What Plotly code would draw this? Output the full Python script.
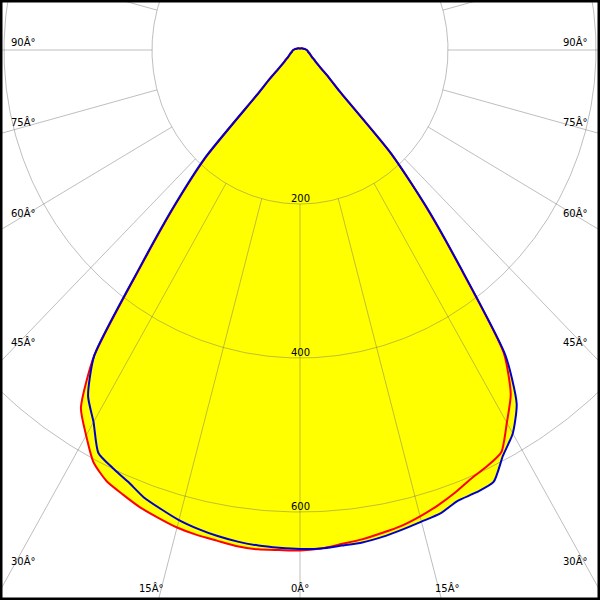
import numpy as np
import plotly.graph_objects as go

# Angles (degrees from nadir, negative = left half) and luminous intensities (cd)
angles = [-180, -135, -110, -100, -90, -85, -80, -75, -70, -65, -60, -57.5, -55, -52.5,
          -50, -47.5, -45, -42.5, -40, -37.5, -35, -32.5, -30, -27.5, -25, -22.5, -20,
          -17.5, -15, -12.5, -10, -7.5, -5, -2.5, 0, 2.5, 5, 7.5, 10, 12.5, 15, 17.5,
          20, 22.5, 25, 27.5, 30, 32.5, 35, 37.5, 40, 42.5, 45, 47.5, 50, 52.5, 55,
          57.5, 60, 65, 70, 75, 80, 85, 90, 100, 110, 135, 180]

red_cd = [2, 3, 5, 7, 9, 10, 11, 12, 14, 16, 19, 22, 25, 30,
          38, 55, 80, 185, 262, 352, 485, 551, 578, 604, 618, 625, 632,
          637, 642, 645, 647, 650, 651, 650, 650, 648, 644, 641, 637, 633, 627, 620,
          612, 603, 597, 589, 559, 530, 480, 355, 262, 180, 75, 52, 37, 30, 25,
          22, 19, 16, 14, 12, 11, 10, 9, 7, 5, 3, 2]

blue_cd = [2, 3, 5, 7, 9, 10, 11, 12, 14, 16, 19, 22, 25, 30,
           39, 56, 82, 190, 265, 355, 485, 533, 558, 590, 599, 607, 618,
           625, 632, 637, 641, 644, 646, 647, 648, 648, 646, 645, 642, 638, 634, 631,
           623, 622, 619, 594, 575, 545, 484, 357, 265, 182, 75, 53, 38, 30, 25,
           22, 19, 16, 14, 12, 11, 10, 9, 7, 5, 3, 2]

grid_radii = [200, 400, 600]
radial_angles = list(range(-180, 181, 15))
ring_labels = ["200", "400", "600"]
left_labels = ["90Â°", "75Â°", "60Â°", "45Â°", "30Â°"]
right_labels = ["90Â°", "75Â°", "60Â°", "45Â°", "30Â°"]
bottom_labels = ["15Â°", "0Â°", "15Â°"]

# pixel geometry of the diagram
W = H = 600
CX, CY = 300, 50          # pole position (px)
SX, SY = 0.74, 0.77       # px per cd horizontally / vertically


def to_xy(theta_deg, r):
    t = np.radians(np.asarray(theta_deg, dtype=float))
    r = np.asarray(r, dtype=float)
    return r * np.sin(t), -r * np.cos(t)


fig = go.Figure()

rx, ry = to_xy(angles, red_cd)
bx, by = to_xy(angles, blue_cd)

# yellow fill (union of both curves)
for xx, yy in ((rx, ry), (bx, by)):
    fig.add_trace(go.Scatter(x=xx, y=yy, mode="lines", fill="toself",
                             fillcolor="#FFFF00", line=dict(width=0, shape="spline", smoothing=0.6),
                             hoverinfo="skip", showlegend=False))

grid_col = "rgba(110,110,110,0.45)"
# circles
phi = np.linspace(-180, 180, 721)
for rr in grid_radii:
    gx, gy = to_xy(phi, np.full_like(phi, rr))
    fig.add_trace(go.Scatter(x=gx, y=gy, mode="lines", line=dict(color=grid_col, width=1),
                             hoverinfo="skip", showlegend=False))
# radial lines
for a in radial_angles:
    gx, gy = to_xy([a, a], [grid_radii[0], 2000])
    fig.add_trace(go.Scatter(x=gx, y=gy, mode="lines", line=dict(color=grid_col, width=1),
                             hoverinfo="skip", showlegend=False))

# curves
fig.add_trace(go.Scatter(x=rx, y=ry, mode="lines",
                         line=dict(color="#FF0000", width=2, shape="spline", smoothing=0.6),
                         hoverinfo="skip", showlegend=False))
fig.add_trace(go.Scatter(x=bx, y=by, mode="lines",
                         line=dict(color="#0000CC", width=2, shape="spline", smoothing=0.6),
                         hoverinfo="skip", showlegend=False))

font = dict(family="DejaVu Sans", size=10, color="black")
ann = []


def px(xp, yp):
    return xp / W, 1 - yp / H


# ring labels
for lbl, yp in zip(ring_labels, [198, 352, 506]):
    x, y = px(300, yp)
    ann.append(dict(x=x, y=y, text=lbl, xref="paper", yref="paper", showarrow=False,
                    xanchor="center", yanchor="middle", font=font))
# side labels
for lbl, yp in zip(left_labels, [42, 122, 213, 342, 561]):
    x, y = px(9, yp)
    ann.append(dict(x=x, y=y, text=lbl, xref="paper", yref="paper", showarrow=False,
                    xanchor="left", yanchor="middle", font=font))
for lbl, yp in zip(right_labels, [42, 122, 213, 342, 561]):
    x, y = px(590, yp)
    ann.append(dict(x=x, y=y, text=lbl, xref="paper", yref="paper", showarrow=False,
                    xanchor="right", yanchor="middle", font=font))
for lbl, xp in zip(bottom_labels, [151, 300, 447]):
    x, y = px(xp, 588)
    ann.append(dict(x=x, y=y, text=lbl, xref="paper", yref="paper", showarrow=False,
                    xanchor="center", yanchor="middle", font=font))

fig.update_layout(
    width=W, height=H,
    margin=dict(l=0, r=0, t=0, b=0),
    paper_bgcolor="white", plot_bgcolor="white",
    xaxis=dict(range=[-CX / SX, (W - CX) / SX], visible=False, fixedrange=True),
    yaxis=dict(range=[-(H - CY) / SY, CY / SY], visible=False, fixedrange=True),
    annotations=ann,
    shapes=[dict(type="rect", xref="paper", yref="paper", x0=0, y0=0, x1=1, y1=1,
                 line=dict(color="black", width=5), layer="above")],
    showlegend=False,
)

fig.write_html("out.html", config={"staticPlot": True},
               post_script="document.body.style.margin='0';"
                           "document.body.style.overflow='hidden';")
